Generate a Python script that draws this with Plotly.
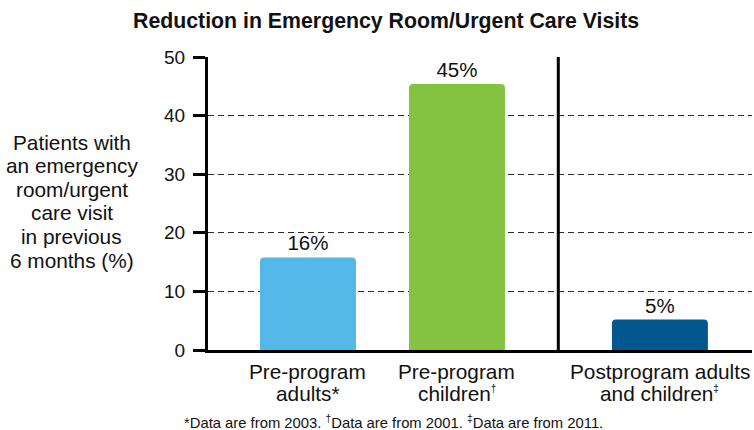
import plotly.graph_objects as go

# ---------------- data ----------------
categories = ["Pre-program adults*", "Pre-program children†", "Postprogram adults and children‡"]
SUP = '<sup><span style="font-size:10px">{}</span></sup>'
category_lines = [
    ["Pre-program", "adults*"],
    ["Pre-program", "children" + SUP.format("†")],
    ["Postprogram adults", "and children" + SUP.format("‡")],
]
values = [15.8, 45.4, 5.2]
value_labels = ["16%", "45%", "5%"]
bar_colors = ["#53B8E7", "#84C341", "#02578F"]
y_tick_values = [0, 10, 20, 30, 40, 50]
title_text = "<b>Reduction in Emergency Room/Urgent Care Visits</b>"
y_title_lines = ["Patients with", "an emergency", "room/urgent", "care visit", "in previous", "6 months (%)"]
footnote_text = ("*Data are from 2003. <sup>†</sup>Data are from 2001. "
                 "<sup>‡</sup>Data are from 2011.")

# ---------------- layout constants ----------------
W, H = 754, 430
PL, PR, PT, PB = 208, 752, 57, 350          # plot area in pixels
x_pos = [1, 2, 3.362]                        # category positions (uneven spacing)
x_range = [0.329, 3.98]
bar_width = 0.644
divider_x = 2.68
FONT = "Liberation Sans, Arial, Helvetica, sans-serif"


def py2paper(py):
    return (PB - py) / (PB - PT)


def px2paper(px):
    return (px - PL) / (PR - PL)


fig = go.Figure()
fig.add_trace(go.Bar(
    x=x_pos, y=values, width=bar_width,
    marker=dict(color=bar_colors, line=dict(width=0), cornerradius=4),
    text=value_labels, textposition="outside",
    textfont=dict(family=FONT, size=20.5, color="#111"),
    cliponaxis=False, hoverinfo="skip", name="",
))

annotations = []
# y axis title, one line at a time
for i, line in enumerate(y_title_lines):
    baseline = 149.3 + i * 23.55
    annotations.append(dict(
        text=line, xref="paper", yref="paper",
        x=px2paper(71.5), y=py2paper(baseline - 7.0),
        xanchor="center", yanchor="middle", showarrow=False,
        font=dict(family=FONT, size=20.8, color="#111"),
    ))
# category labels
for xp, lines in zip(x_pos, category_lines):
    for j, line in enumerate(lines):
        baseline = 378.3 + j * 22.4
        annotations.append(dict(
            text=line, xref="x", yref="paper",
            x=xp, y=py2paper(baseline - 7.0),
            xanchor="center", yanchor="middle", showarrow=False,
            font=dict(family=FONT, size=20.8, color="#111"),
        ))
# footnote
annotations.append(dict(
    text=footnote_text, xref="paper", yref="paper",
    x=px2paper(393), y=py2paper(427.3 - 5.2),
    xanchor="center", yanchor="middle", showarrow=False,
    font=dict(family=FONT, size=14.8, color="#111"),
))
# title
annotations.append(dict(
    text=title_text, xref="paper", yref="paper",
    x=px2paper(386), y=py2paper(21),
    xanchor="center", yanchor="middle", showarrow=False,
    font=dict(family=FONT, size=21.3, color="#111"),
))

fig.update_layout(
    width=W, height=H,
    margin=dict(l=PL, r=W - PR, t=PT, b=H - PB, pad=0),
    paper_bgcolor="white", plot_bgcolor="white",
    showlegend=False,
    font=dict(family=FONT, color="#111"),
    annotations=annotations,
    shapes=[dict(
        type="line", xref="x", yref="paper",
        x0=divider_x, x1=divider_x, y0=0, y1=1,
        line=dict(color="black", width=3),
    )],
    xaxis=dict(
        range=x_range, showgrid=False, zeroline=False,
        showline=True, linecolor="black", linewidth=3,
        showticklabels=False, ticks="",
    ),
    yaxis=dict(
        range=[0, 50], tickvals=y_tick_values,
        showgrid=True, gridcolor="#2a2a2a", gridwidth=1, griddash="6px,4px",
        zeroline=False,
        showline=True, linecolor="black", linewidth=3,
        ticks="outside", ticklen=12, tickwidth=3, tickcolor="black",
        ticklabelstandoff=4,
        tickfont=dict(family=FONT, size=19, color="#111"),
    ),
)

fig.write_html(
    "out.html",
    config={"displayModeBar": False, "staticPlot": True},
    post_script="document.body.style.margin='0';document.body.style.padding='0';",
)
